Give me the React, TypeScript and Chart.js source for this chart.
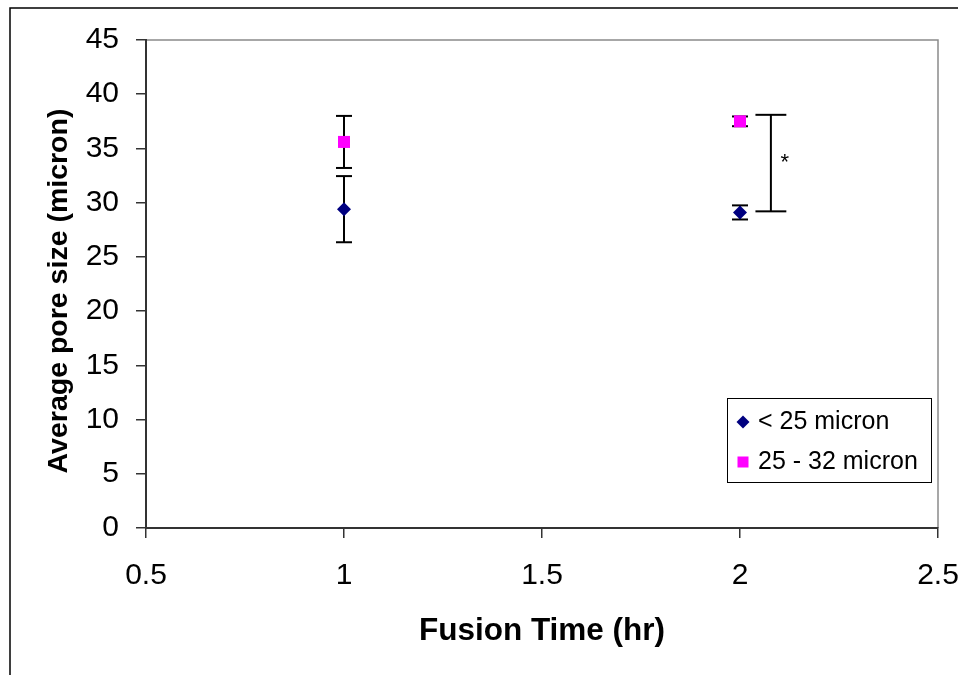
import React, { useEffect, useRef } from 'react';
import { Chart, registerables } from 'chart.js';

Chart.register(...registerables);

// ---- data ----
const xValues = [1, 2];
const seriesLabels = ['< 25 micron', '25 - 32 micron'];
const smallMeans = [29.4, 29.1];
const smallErrors = [3.05, 0.65];
const largeMeans = [35.6, 37.5];
const largeErrors = [2.4, 0.45];
const xTickMin = 0.5;
const xTickMax = 2.5;
const xTickStep = 0.5;
const yTickMin = 0;
const yTickMax = 45;
const yTickStep = 5;
const bracketX = [2.078];
const bracketTop = [38.1];
const bracketBottom = [29.2];
const bracketHalfWidth = [0.039];
const bracketLabel = ['*'];
const xTitle = 'Fusion Time (hr)';
const yTitle = 'Average pore size (micron)';

const FONT = "'Liberation Sans', Arial, Helvetica, sans-serif";

export default function App() {
  const ref = useRef<HTMLCanvasElement>(null);

  useEffect(() => {
    const canvas = ref.current;
    if (!canvas) return;

    const framePlugin = {
      id: 'frame',
      beforeDraw(chart: any) {
        const ctx = chart.ctx;
        ctx.save();
        ctx.fillStyle = '#fff';
        ctx.fillRect(0, 0, chart.width, chart.height);
        ctx.strokeStyle = '#000';
        ctx.lineWidth = 1.5;
        ctx.beginPath();
        ctx.moveTo(10, chart.height);
        ctx.lineTo(10, 8);
        ctx.lineTo(chart.width, 8);
        ctx.stroke();
        const { left, right, top, bottom } = chart.chartArea;
        ctx.strokeStyle = '#8a8a8a';
        ctx.lineWidth = 1.5;
        ctx.beginPath();
        ctx.moveTo(left, top);
        ctx.lineTo(right, top);
        ctx.lineTo(right, bottom);
        ctx.stroke();
        ctx.restore();
      },
      afterDraw(chart: any) {
        // y-axis title, drawn by hand so it can sit slightly below the plot centre as in the original
        const ctx = chart.ctx;
        const { top, bottom } = chart.chartArea;
        ctx.save();
        ctx.translate(59, (top + bottom) / 2 + 7);
        ctx.rotate(-Math.PI / 2);
        ctx.fillStyle = '#000';
        ctx.font = `bold 28.5px ${FONT}`;
        ctx.textAlign = 'center';
        ctx.textBaseline = 'middle';
        ctx.fillText(yTitle, 0, 0);
        ctx.restore();
      },
    };

    const errorPlugin = {
      id: 'errorBars',
      beforeDatasetsDraw(chart: any) {
        const ctx = chart.ctx;
        const xs = chart.scales.x;
        const ys = chart.scales.y;
        const line = (x1: number, y1: number, x2: number, y2: number) => {
          ctx.beginPath();
          ctx.moveTo(x1, y1);
          ctx.lineTo(x2, y2);
          ctx.stroke();
        };
        ctx.save();
        ctx.strokeStyle = '#000';
        ctx.lineWidth = 2;
        const series: [number[], number[]][] = [
          [smallMeans, smallErrors],
          [largeMeans, largeErrors],
        ];
        series.forEach(([m, e]) => {
          xValues.forEach((xv, i) => {
            const px = xs.getPixelForValue(xv);
            const t = ys.getPixelForValue(m[i] + e[i]);
            const b = ys.getPixelForValue(m[i] - e[i]);
            line(px, t, px, b);
            line(px - 8, t, px + 8, t);
            line(px - 8, b, px + 8, b);
          });
        });
        // significance bracket
        bracketX.forEach((bxv, i) => {
          const px = xs.getPixelForValue(bxv);
          const pl = xs.getPixelForValue(bxv - bracketHalfWidth[i]);
          const pr = xs.getPixelForValue(bxv + bracketHalfWidth[i]);
          const t = ys.getPixelForValue(bracketTop[i]);
          const b = ys.getPixelForValue(bracketBottom[i]);
          line(px, t, px, b);
          line(pl, t, pr, t);
          line(pl, b, pr, b);
          ctx.fillStyle = '#000';
          ctx.font = `22px ${FONT}`;
          ctx.textAlign = 'center';
          ctx.textBaseline = 'middle';
          ctx.fillText(bracketLabel[i], px + 14, (t + b) / 2);
        });
        ctx.restore();
      },
    };

    const legendPlugin = {
      id: 'boxLegend',
      afterDraw(chart: any) {
        const ctx = chart.ctx;
        const { right, bottom } = chart.chartArea;
        const bx = right - 211;
        const by = bottom - 130;
        const bw = 204;
        const bh = 84;
        ctx.save();
        ctx.strokeStyle = '#000';
        ctx.lineWidth = 1;
        ctx.strokeRect(bx + 0.5, by + 0.5, bw, bh);
        chart.data.datasets.forEach((ds: any, i: number) => {
          const cy = by + 24 + i * 40;
          const cx = bx + 16;
          ctx.fillStyle = ds.backgroundColor;
          if (ds.pointStyle === 'rectRot') {
            const r = 6.5;
            ctx.beginPath();
            ctx.moveTo(cx, cy - r);
            ctx.lineTo(cx + r, cy);
            ctx.lineTo(cx, cy + r);
            ctx.lineTo(cx - r, cy);
            ctx.closePath();
            ctx.fill();
          } else {
            ctx.fillRect(cx - 5.5, cy - 5.5, 11, 11);
          }
          ctx.fillStyle = '#000';
          ctx.font = `25px ${FONT}`;
          ctx.textAlign = 'left';
          ctx.textBaseline = 'middle';
          ctx.fillText(ds.label, bx + 31, cy);
        });
        ctx.restore();
      },
    };

    const chart = new Chart(canvas, {
      type: 'scatter',
      data: {
        datasets: [
          {
            label: seriesLabels[0],
            data: xValues.map((x, i) => ({ x, y: smallMeans[i] })),
            pointStyle: 'rectRot',
            pointRadius: 7,
            backgroundColor: '#000080',
            borderColor: '#000080',
            borderWidth: 0,
          },
          {
            label: seriesLabels[1],
            data: xValues.map((x, i) => ({ x, y: largeMeans[i] })),
            pointStyle: 'rect',
            pointRadius: 8.5,
            backgroundColor: '#FF00FF',
            borderColor: '#FF00FF',
            borderWidth: 0,
          },
        ],
      },
      options: {
        responsive: false,
        animation: false,
        devicePixelRatio: 1,
        layout: { padding: { top: 40, right: 20, left: 0, bottom: 0 } },
        plugins: {
          legend: { display: false },
          tooltip: { enabled: false },
        },
        scales: {
          x: {
            type: 'linear',
            min: xTickMin,
            max: xTickMax,
            ticks: {
              stepSize: xTickStep,
              color: '#000',
              font: { family: FONT, size: 30 },
              padding: 20,
              maxRotation: 0,
              callback: (v: any) => String(Math.round(Number(v) * 10) / 10),
            },
            grid: {
              display: true,
              drawOnChartArea: false,
              drawTicks: true,
              tickLength: 10,
              color: '#333',
              lineWidth: 1.5,
            },
            border: { display: true, color: '#333', width: 2 },
            title: {
              display: true,
              text: xTitle,
              color: '#000',
              font: { family: FONT, size: 31.5, weight: 'bold' },
              padding: { top: 0, bottom: 25 },
            },
            afterFit(scale: any) {
              scale.height = 147;
              scale.paddingLeft = 0;
              scale.paddingRight = 0;
            },
          },
          y: {
            type: 'linear',
            min: yTickMin,
            max: yTickMax,
            ticks: {
              stepSize: yTickStep,
              color: '#000',
              font: { family: FONT, size: 30 },
              padding: 17,
            },
            grid: {
              display: true,
              drawOnChartArea: false,
              drawTicks: true,
              tickLength: 10,
              color: '#333',
              lineWidth: 1.5,
            },
            border: { display: true, color: '#333', width: 2 },
            title: { display: false },
            afterFit(scale: any) {
              scale.width = 146;
              scale.paddingTop = 0;
              scale.paddingBottom = 0;
            },
          },
        },
      },
      plugins: [framePlugin, errorPlugin, legendPlugin],
    } as any);

    return () => {
      chart.destroy();
    };
  }, []);

  return (
    <div style={{ position: 'absolute', left: 0, top: 0, width: 958, height: 675, overflow: 'hidden' }}>
      <canvas ref={ref} width={958} height={675} style={{ display: 'block' }} />
    </div>
  );
}
